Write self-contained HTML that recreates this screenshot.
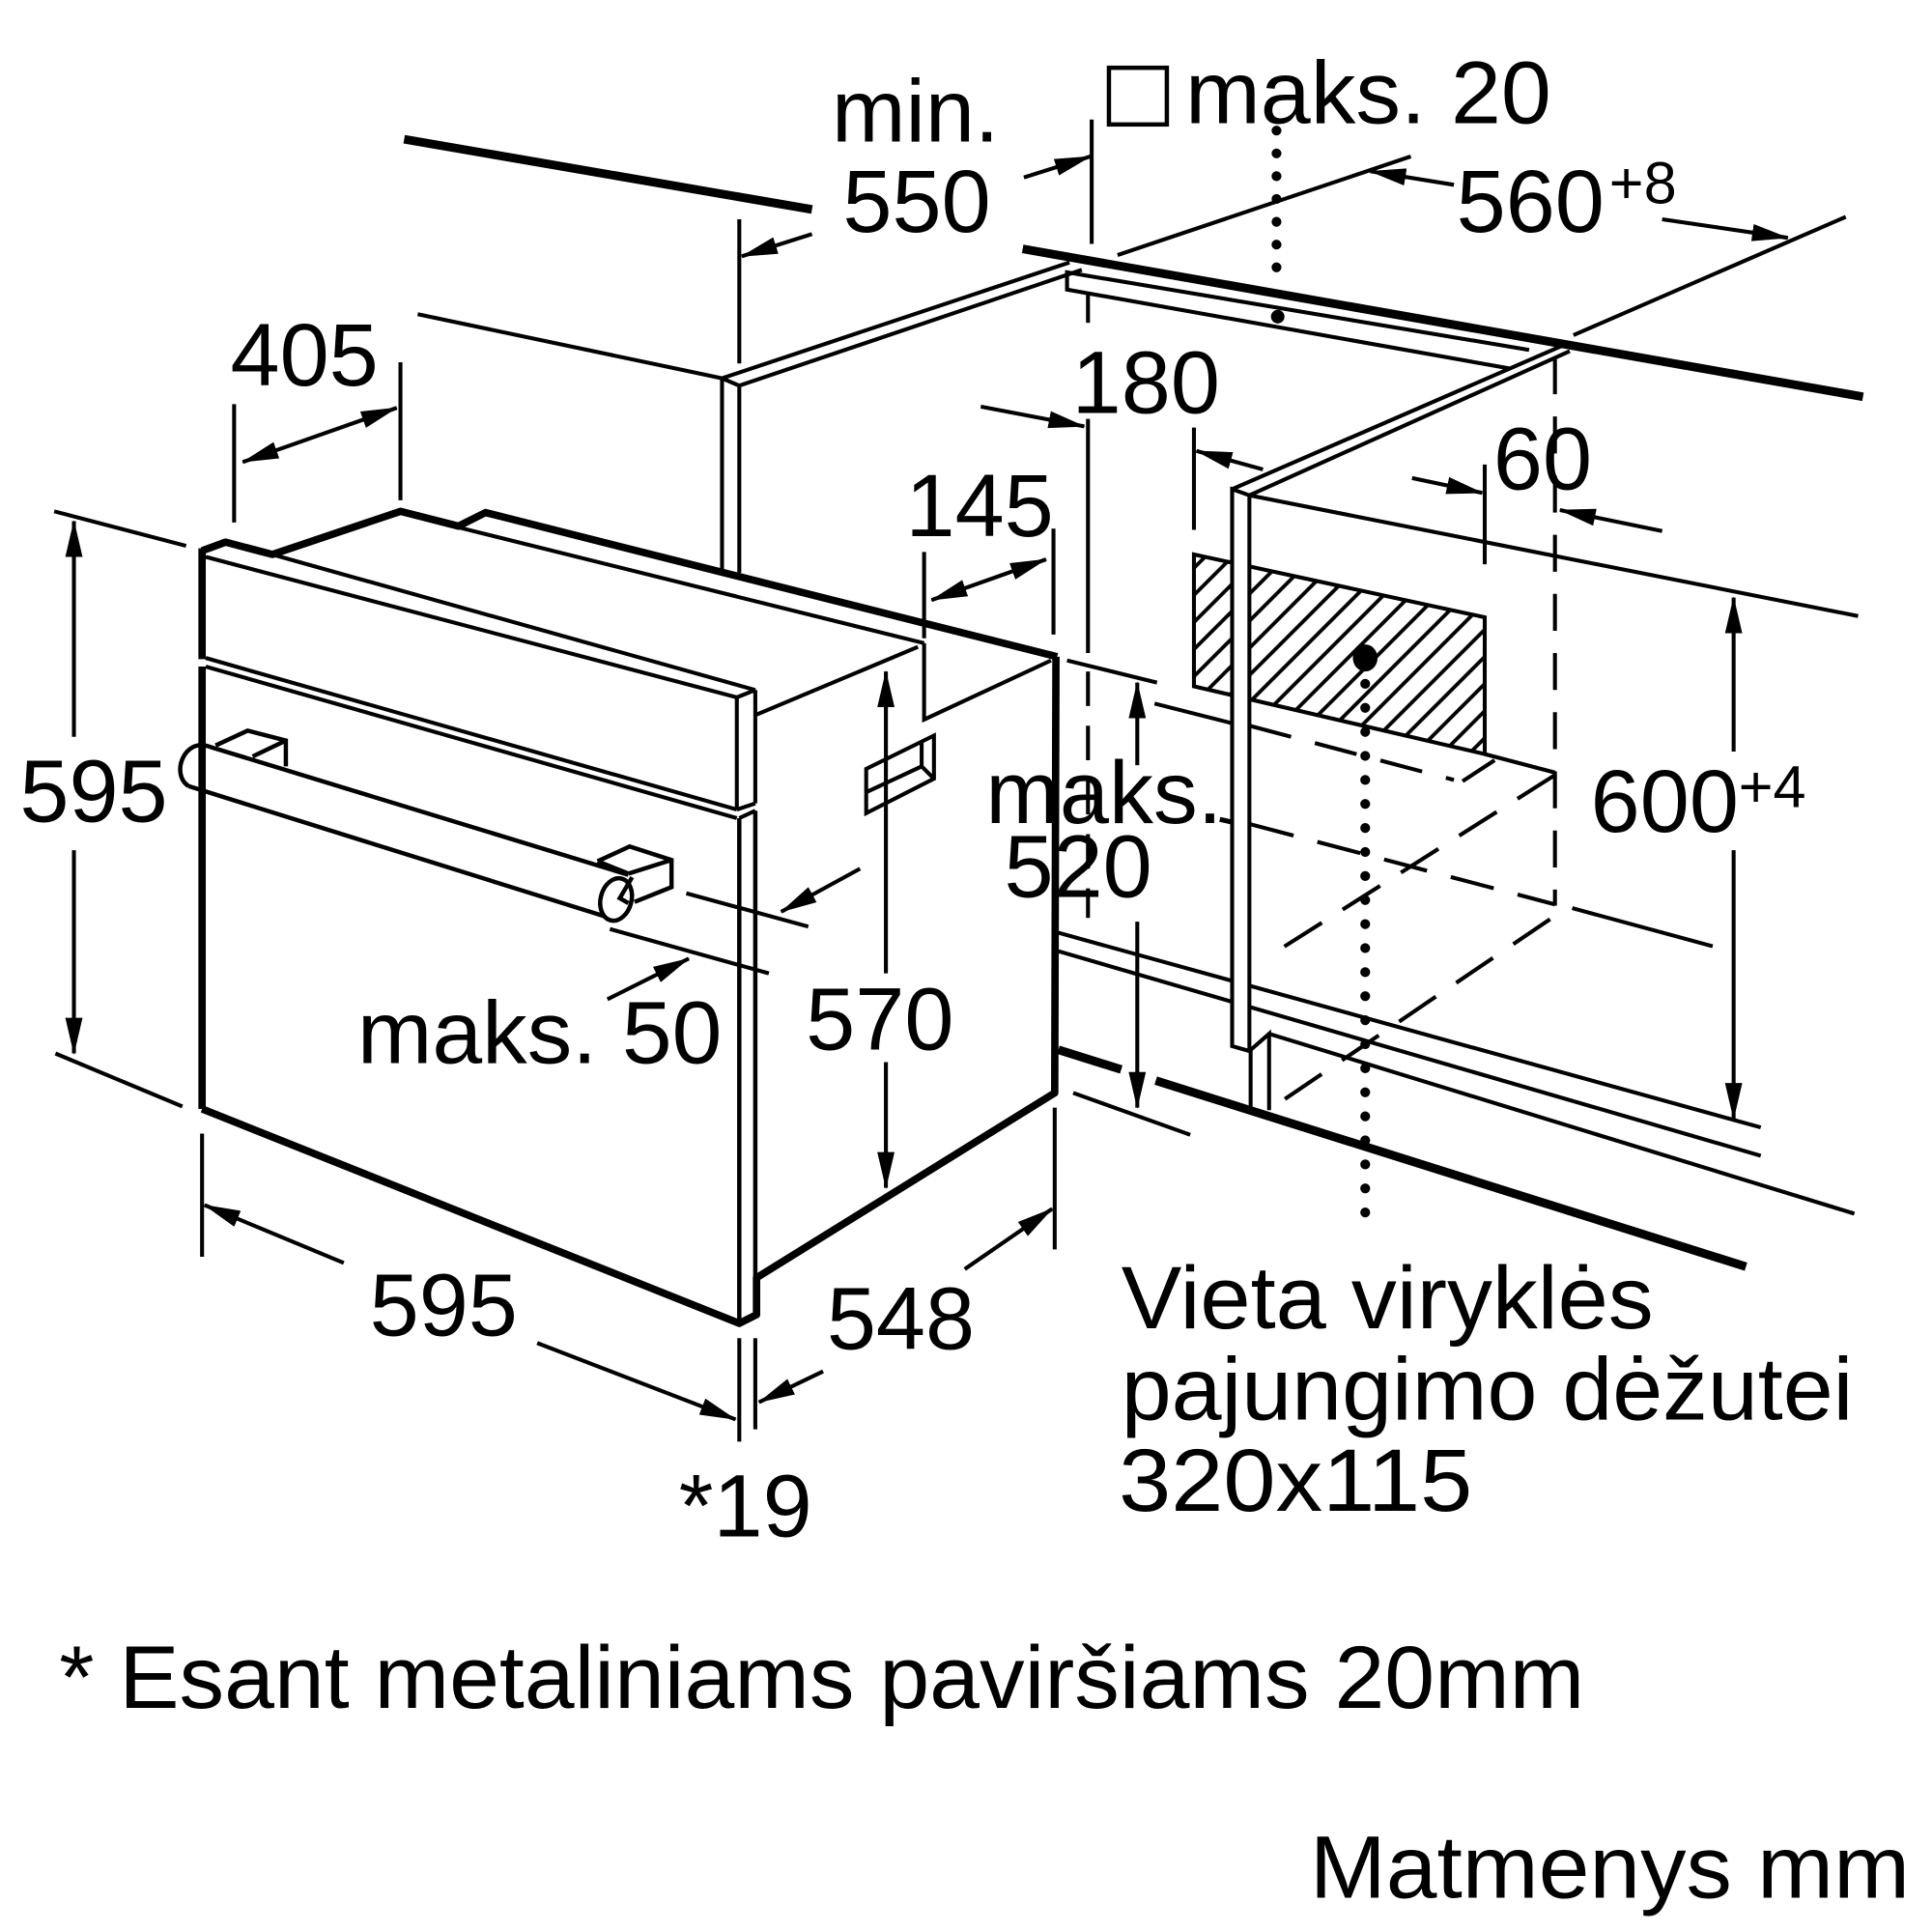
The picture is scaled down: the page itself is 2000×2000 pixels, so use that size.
<!DOCTYPE html>
<html><head><meta charset="utf-8"><style>
html,body{margin:0;padding:0;background:#fff;}
svg{display:block;}
text{font-family:"Liberation Sans",Arial,sans-serif;fill:#000;}
</style></head><body>
<svg xmlns="http://www.w3.org/2000/svg" width="2000" height="2000" viewBox="0 0 1568 1568">
<defs>
<marker id="a" viewBox="0 0 30 14" refX="29" refY="7" markerWidth="30" markerHeight="14" markerUnits="userSpaceOnUse" orient="auto-start-reverse"><path d="M0,0 L30,7 L0,14 z" fill="#000" stroke="none"/></marker>
<pattern id="h" patternUnits="userSpaceOnUse" width="22" height="22"><path d="M-2,24 L24,-2 M-13,13 L13,-13 M9,35 L35,9" stroke="#000" stroke-width="3"/></pattern>
</defs>
<rect width="1568" height="1568" fill="#fff"/>
<g fill="none" stroke="#000" stroke-width="3.2">
<!-- worktops -->
<line x1="328" y1="113" x2="659" y2="170" stroke-width="7"/>
<line x1="830" y1="202" x2="1512" y2="322" stroke-width="7"/>
<!-- 550 -->
<line x1="600" y1="178" x2="600" y2="295"/>
<line x1="659" y1="190" x2="602" y2="208" marker-end="url(#a)"/>
<line x1="831" y1="144" x2="885" y2="127" marker-end="url(#a)"/>
<line x1="886" y1="97" x2="886" y2="198"/>
<rect x="900" y="55" width="47" height="46" stroke-width="3.5"/>
<line x1="1036" y1="106" x2="1036" y2="232" stroke-width="8" stroke-linecap="round" stroke-dasharray="0 18.5"/>
<!-- 560 -->
<line x1="907" y1="207" x2="1145" y2="127"/>
<line x1="1180" y1="150" x2="1112" y2="139" marker-end="url(#a)"/>
<line x1="1349" y1="178" x2="1451" y2="193" marker-end="url(#a)"/>
<line x1="1277" y1="272" x2="1498" y2="176"/>
<!-- left cabinet -->
<line x1="339" y1="255" x2="586" y2="307"/>
<polyline points="586,466 586,307 868,213"/>
<polyline points="600,465 600,313 878,219"/>
<line x1="586" y1="307" x2="600" y2="313"/>
<!-- panel under worktop -->
<polyline points="1241,284 866,221 866,235 1225,299"/>
<line x1="883" y1="238" x2="883" y2="262"/>
<!-- right cabinet top -->
<line x1="1000" y1="397" x2="1267" y2="281"/>
<line x1="1014" y1="402" x2="1274" y2="285"/>
<line x1="1014" y1="402" x2="1508" y2="500"/>
<!-- hatched box -->
<polygon points="969,450 1205,501 1205,612 969,557" fill="url(#h)"/>
<!-- recess lines -->
<line x1="937" y1="571" x2="1000" y2="587"/>
<line x1="1014" y1="589" x2="1180" y2="633" stroke-dasharray="35 20"/>
<line x1="1187" y1="634" x2="1213" y2="617"/>
<line x1="1205" y1="612" x2="1262" y2="627"/>
<line x1="1262" y1="290" x2="1262" y2="735" stroke-dasharray="30 18"/>
<line x1="1262" y1="629" x2="1030" y2="776" stroke-dasharray="36 20"/>
<line x1="1015" y1="669" x2="1262" y2="734" stroke-dasharray="36 20"/>
<line x1="990" y1="665" x2="999" y2="667" stroke-width="4"/>
<line x1="1276" y1="737" x2="1390" y2="768"/>
<line x1="1258" y1="746" x2="1031" y2="900" stroke-dasharray="36 20"/>
<!-- floor lines -->
<line x1="859" y1="757" x2="1429" y2="915"/>
<line x1="859" y1="772" x2="1429" y2="938"/>
<line x1="1030" y1="839" x2="1505" y2="985"/>
<line x1="859" y1="852" x2="910" y2="868" stroke-width="7"/>
<line x1="938" y1="877" x2="1417" y2="1028" stroke-width="7"/>
<!-- right cabinet panel -->
<polygon points="1000,397 1014,402 1014,853 1000,849" fill="#fff"/>
<polyline points="1014,853 1030,839 1030,901"/>
<line x1="1015" y1="853" x2="1015" y2="901"/>
<!-- dotted line & dot -->
<ellipse cx="1108" cy="534" rx="10" ry="11" fill="#000" stroke="none"/>
<line x1="1108" y1="555" x2="1108" y2="1000" stroke-width="8" stroke-linecap="round" stroke-dasharray="0 19.5"/>
<circle cx="1037" cy="257" r="5.5" fill="#000" stroke="none"/>
<!-- 600 -->
<line x1="1407" y1="610" x2="1407" y2="485" marker-end="url(#a)"/>
<line x1="1407" y1="690" x2="1407" y2="908" marker-end="url(#a)"/>
<!-- 60 -->
<line x1="1205" y1="377" x2="1205" y2="458"/>
<line x1="1146" y1="388" x2="1203" y2="400" marker-end="url(#a)"/>
<line x1="1349" y1="431" x2="1266" y2="414" marker-end="url(#a)"/>
<!-- 180 -->
<line x1="883" y1="340" x2="883" y2="530"/>
<line x1="883" y1="545" x2="883" y2="745" stroke-dasharray="28 16"/>
<line x1="796" y1="330" x2="880" y2="346" marker-end="url(#a)"/>
<line x1="969" y1="347" x2="969" y2="430"/>
<line x1="1025" y1="381" x2="971" y2="366" marker-end="url(#a)"/>
<!-- 145 -->
<line x1="750" y1="448" x2="750" y2="518"/>
<line x1="855" y1="429" x2="855" y2="515"/>
<line x1="756" y1="487" x2="849" y2="454" marker-start="url(#a)" marker-end="url(#a)"/>
<!-- 520 -->
<line x1="866" y1="536" x2="939" y2="554"/>
<line x1="923" y1="621" x2="923" y2="554" marker-end="url(#a)"/>
<line x1="923" y1="748" x2="923" y2="899" marker-end="url(#a)"/>
<line x1="871" y1="887" x2="966" y2="921"/>
<!-- oven -->
<polyline points="164,447 183,440 221,450 325,415 372,427 394,416 858,533" stroke-width="6" stroke-linejoin="round"/>
<line x1="372" y1="428" x2="750" y2="522"/>
<line x1="167" y1="452" x2="598" y2="566"/>
<line x1="221" y1="450" x2="613" y2="560"/>
<line x1="598" y1="566" x2="613" y2="560"/>
<line x1="598" y1="566" x2="598" y2="657"/>
<line x1="613" y1="560" x2="613" y2="652"/>
<line x1="167" y1="534" x2="598" y2="657"/>
<line x1="598" y1="657" x2="613" y2="652"/>
<line x1="167" y1="541" x2="598" y2="664"/>
<line x1="600" y1="664" x2="613" y2="658"/>
<line x1="164" y1="445" x2="164" y2="535" stroke-width="6"/>
<line x1="164" y1="541" x2="164" y2="900" stroke-width="6"/>
<line x1="600" y1="664" x2="600" y2="1074" stroke-width="3.5"/>
<line x1="613" y1="658" x2="613" y2="1040" stroke-width="3.5"/>
<polyline points="164,900 600,1074 614,1067 614,1037 856,887 857,533" stroke-width="6" stroke-linejoin="round"/>
<line x1="614" y1="580" x2="745" y2="525"/>
<polyline points="750,522 750,584 853,536"/>
<!-- vent -->
<polygon points="703,624 758,597 758,632 703,660"/>
<polyline points="703,643 748,622 758,632"/>
<line x1="748" y1="622" x2="748" y2="602"/>
<!-- 570 -->
<line x1="719" y1="790" x2="719" y2="545" marker-end="url(#a)"/>
<line x1="719" y1="862" x2="719" y2="964" marker-end="url(#a)"/>
<!-- handle -->
<path d="M170,606 L510,710 M153,638 L495,745 M170,606 C150,598 138,628 153,638" stroke-width="3.5"/>
<ellipse cx="500" cy="730" rx="12.5" ry="17.5" transform="rotate(15 500 730)" fill="#fff" stroke-width="3.5"/>
<polyline points="513,712 503,729 510,733" stroke-width="3.5"/>
<polyline points="175,605 201,593 232,601 232,622" stroke-width="3.5"/>
<line x1="205" y1="614" x2="232" y2="601" stroke-width="3.5"/>
<polyline points="485,699 511,687 545,698 545,720 515,732" stroke-width="3.5"/>
<line x1="510" y1="709" x2="545" y2="698" stroke-width="3.5"/>
<line x1="485" y1="699" x2="510" y2="709" stroke-width="3.5"/>
<!-- maks 50 -->
<line x1="557" y1="725" x2="656" y2="752"/>
<line x1="698" y1="705" x2="634" y2="740" marker-end="url(#a)"/>
<line x1="495" y1="754" x2="624" y2="790"/>
<line x1="493" y1="811" x2="559" y2="778" marker-end="url(#a)"/>
<!-- 405 -->
<line x1="190" y1="328" x2="190" y2="424"/>
<line x1="325" y1="294" x2="325" y2="406"/>
<line x1="197" y1="375" x2="322" y2="331" marker-start="url(#a)" marker-end="url(#a)"/>
<!-- 595 left -->
<line x1="44" y1="415" x2="151" y2="443"/>
<line x1="45" y1="855" x2="148" y2="898"/>
<line x1="60" y1="598" x2="60" y2="423" marker-end="url(#a)"/>
<line x1="60" y1="690" x2="60" y2="855" marker-end="url(#a)"/>
<!-- 595 bottom -->
<line x1="164" y1="920" x2="164" y2="1020"/>
<line x1="279" y1="1025" x2="166" y2="978" marker-end="url(#a)"/>
<line x1="436" y1="1090" x2="597" y2="1152" marker-end="url(#a)"/>
<!-- 548 -->
<line x1="856" y1="899" x2="856" y2="1014"/>
<line x1="783" y1="1030" x2="854" y2="981" marker-end="url(#a)"/>
<line x1="668" y1="1113" x2="616" y2="1138" marker-end="url(#a)"/>
<!-- *19 -->
<line x1="600" y1="1086" x2="600" y2="1170"/>
<line x1="613" y1="1086" x2="613" y2="1160"/>
</g>
<g font-size="72">
<text x="675" y="115">min.</text>
<text x="684" y="188">550</text>
<text x="962" y="100" textLength="297" lengthAdjust="spacingAndGlyphs">maks. 20</text>
<text x="1182" y="188">560</text>
<text x="1306" y="165" font-size="48">+8</text>
<text x="187" y="313">405</text>
<text x="870" y="335">180</text>
<text x="1212" y="397">60</text>
<text x="735" y="435">145</text>
<text x="16" y="667">595</text>
<text x="800" y="668">maks.</text>
<text x="815" y="728">520</text>
<text x="1291" y="675">600</text>
<text x="1411" y="655" font-size="48">+4</text>
<text x="290" y="863" textLength="296" lengthAdjust="spacingAndGlyphs">maks. 50</text>
<text x="654" y="852">570</text>
<text x="300" y="1084">595</text>
<text x="671" y="1095">548</text>
<text x="551" y="1247">*19</text>
<text x="910" y="1078" textLength="432" lengthAdjust="spacingAndGlyphs">Vieta viryklės</text>
<text x="910" y="1152" textLength="594" lengthAdjust="spacingAndGlyphs">pajungimo dėžutei</text>
<text x="908" y="1226" textLength="287" lengthAdjust="spacingAndGlyphs">320x115</text>
<text x="48" y="1386" textLength="1238" lengthAdjust="spacingAndGlyphs">* Esant metaliniams paviršiams 20mm</text>
<text x="1063" y="1540" textLength="487" lengthAdjust="spacingAndGlyphs">Matmenys mm</text>
</g>
</svg>
</body></html>
